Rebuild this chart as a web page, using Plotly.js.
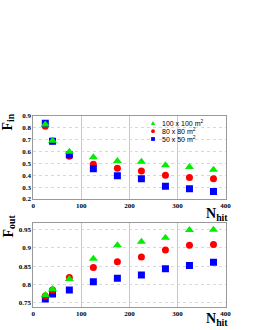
<!DOCTYPE html>
<html>
<head>
<meta charset="utf-8">
<script src="https://cdn.plot.ly/plotly-3.0.1.min.js"></script>
<style>html,body{margin:0;padding:0;background:#fff}#chart{width:255px;height:330px}</style>
</head>
<body>
<div id="chart"></div>
<script>
// ---- data ----
var nHit = [25, 40, 75, 125, 175, 225, 275, 325, 375];
var fin100 = [0.826, 0.690, 0.597, 0.550, 0.520, 0.512, 0.484, 0.469, 0.446];
var fin80  = [0.812, 0.688, 0.560, 0.492, 0.458, 0.435, 0.400, 0.381, 0.370];
var fin50  = [0.837, 0.686, 0.572, 0.455, 0.396, 0.370, 0.307, 0.287, 0.264];
var fout100 = [0.771, 0.787, 0.815, 0.870, 0.907, 0.917, 0.928, 0.949, 0.950];
var fout80  = [0.768, 0.785, 0.819, 0.846, 0.862, 0.875, 0.894, 0.907, 0.909];
var fout50  = [0.760, 0.774, 0.785, 0.807, 0.817, 0.826, 0.843, 0.852, 0.861];
var seriesNames = ['100 x 100 m<sup>2</sup>', '80 x 80 m<sup>2</sup>', '50 x 50 m<sup>2</sup>'];
var xTicks = [0, 100, 200, 300, 400];
var xTickText = ['0', '100', '200', '300', '400'];
var finTicks = [0.2, 0.3, 0.4, 0.5, 0.6, 0.7, 0.8, 0.9];
var finTickText = ['0.2', '0.3', '0.4', '0.5', '0.6', '0.7', '0.8', '0.9'];
var foutTicks = [0.75, 0.8, 0.85, 0.9, 0.95];
var foutTickText = ['0.75', '0.8', '0.85', '0.9', '0.95'];

// ---- style ----
var W = 255, H = 330;
function px(x) { return x / W; }
function py(y) { return 1 - y / H; }
var GREEN = '#00ee00', RED = '#ff0000', BLUE = '#0000ff';
var tickFont = {family: 'Liberation Serif', size: 7, color: '#000', weight: 'bold'};

function tr(x, y, xa, ya, color, symbol, size) {
  return {x: x, y: y, xaxis: xa, yaxis: ya, type: 'scatter', mode: 'markers',
    marker: {color: color, symbol: symbol, size: size, line: {width: 0}},
    showlegend: false, hoverinfo: 'skip'};
}
var data = [
  tr(nHit, fin80, 'x', 'y', RED, 'circle', 7),
  tr(nHit, fin50, 'x', 'y', BLUE, 'square', 7),
  tr(nHit, fin100, 'x', 'y', GREEN, 'triangle-up', 8),
  tr(nHit, fout50, 'x2', 'y2', BLUE, 'square', 7),
  tr(nHit, fout80, 'x2', 'y2', RED, 'circle', 7),
  tr(nHit, fout100, 'x2', 'y2', GREEN, 'triangle-up', 8)
];

function xax(anchor) {
  return {domain: [px(33.3), px(225.5)], range: [0, 400], anchor: anchor,
    tickvals: xTicks, ticktext: xTickText, tickfont: tickFont, ticks: '',
    showline: true, linecolor: '#999', linewidth: 1, mirror: true,
    showgrid: true, gridcolor: '#c8c8c8', gridwidth: 1, zeroline: false, fixedrange: true};
}
function yax(anchor, dom, rng, tv, tt) {
  return {domain: dom, range: rng, anchor: anchor,
    tickvals: tv, ticktext: tt, tickfont: tickFont, ticks: '',
    showline: true, linecolor: '#999', linewidth: 1, mirror: true,
    showgrid: true, gridcolor: '#d8d8d8', griddash: 'dot', gridwidth: 1, zeroline: false, fixedrange: true};
}

var titleFont = {family: 'Liberation Serif', size: 14, color: '#000', weight: 'bold'};
var legFont = {family: 'Liberation Sans', size: 7, color: '#000'};
var legRows = [123.3, 131.2, 139];
var legColors = [GREEN, RED, BLUE];

var annotations = [
  {xref: 'paper', yref: 'paper', x: px(8.5), y: py(122), text: 'F<sub>in</sub>', textangle: -90,
   showarrow: false, font: titleFont, xanchor: 'center', yanchor: 'middle'},
  {xref: 'paper', yref: 'paper', x: px(8.5), y: py(226), text: 'F<sub>out</sub>', textangle: -90,
   showarrow: false, font: titleFont, xanchor: 'center', yanchor: 'middle'},
  {xref: 'paper', yref: 'paper', x: px(217), y: py(214), text: 'N<sub>hit</sub>',
   showarrow: false, font: titleFont, xanchor: 'center', yanchor: 'middle'},
  {xref: 'paper', yref: 'paper', x: px(217), y: py(319), text: 'N<sub>hit</sub>',
   showarrow: false, font: titleFont, xanchor: 'center', yanchor: 'middle'}
];
var shapes = [];
for (var i = 0; i < seriesNames.length; i++) {
  var cy = legRows[i], cx = 153;
  annotations.push({xref: 'paper', yref: 'paper', x: px(159.5), y: py(cy), text: seriesNames[i],
    showarrow: false, font: legFont, xanchor: 'left', yanchor: 'middle'});
  var s = {xref: 'paper', yref: 'paper', fillcolor: legColors[i], line: {width: 0}};
  if (i === 0) {
    s.type = 'path';
    s.path = 'M ' + px(cx - 2.2) + ' ' + py(cy + 1.8) + ' L ' + px(cx + 2.2) + ' ' + py(cy + 1.8) +
             ' L ' + px(cx) + ' ' + py(cy - 2.2) + ' Z';
  } else {
    s.type = (i === 1) ? 'circle' : 'rect';
    s.x0 = px(cx - 1.9); s.x1 = px(cx + 1.9); s.y0 = py(cy + 1.9); s.y1 = py(cy - 1.9);
  }
  shapes.push(s);
}

var layout = {
  width: W, height: H, margin: {l: 0, r: 0, t: 0, b: 0},
  paper_bgcolor: '#fff', plot_bgcolor: '#fff', showlegend: false,
  xaxis: xax('y'),
  yaxis: yax('x', [py(199), py(115.7)], [0.2, 0.9], finTicks, finTickText),
  xaxis2: xax('y2'),
  yaxis2: yax('x2', [py(306.7), py(222.7)], [0.739, 0.969], foutTicks, foutTickText),
  annotations: annotations, shapes: shapes
};
Plotly.newPlot('chart', data, layout, {displayModeBar: false, staticPlot: true});
</script>
</body>
</html>
